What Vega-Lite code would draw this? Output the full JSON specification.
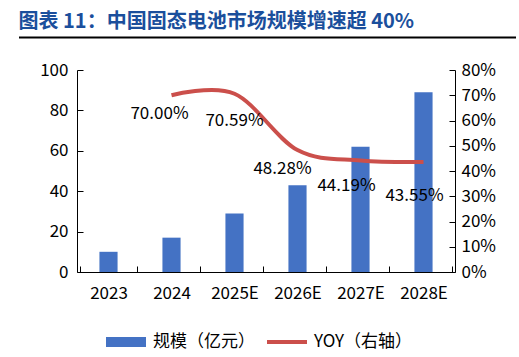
{
  "$schema": "https://vega.github.io/schema/vega-lite/v6.json",
  "padding": {"left": 18, "top": 12, "right": 4, "bottom": 4},
  "background": "white",
  "width": 378,
  "height": 202,
  "title": {"text": "图表 11：中国固态电池市场规模增速超 40%", "anchor": "start", "frame": "bounds", "font": "Noto Sans CJK SC", "fontSize": 20, "fontWeight": "bold", "color": "#1B4F9C", "offset": 5},
  "config": {"view": {"stroke": null}, "font": "Noto Sans CJK SC"},
  "layer": [
    {
      "data": {"values": [
        {"year": "2023", "size": 10, "yoy": null},
        {"year": "2024", "size": 17, "yoy": 0.7},
        {"year": "2025E", "size": 29, "yoy": 0.7059},
        {"year": "2026E", "size": 43, "yoy": 0.4828},
        {"year": "2027E", "size": 62, "yoy": 0.4419},
        {"year": "2028E", "size": 89, "yoy": 0.4355}
      ]},
      "encoding": {
        "x": {"field": "year", "type": "nominal", "sort": null, "title": null,
          "axis": {"labelAngle": 0, "tickBand": "extent", "tickSize": -6, "tickColor": "#000", "domainColor": "#000", "labelFontSize": 17, "labelColor": "#000", "labelPadding": 19, "labelFont": "Noto Sans CJK SC"}}
      },
      "layer": [
        {
          "mark": {"type": "bar", "width": {"band": 0.32}},
          "encoding": {
            "y": {"field": "size", "type": "quantitative", "title": null, "scale": {"domain": [0, 100]},
              "axis": {"values": [0, 20, 40, 60, 80, 100], "grid": false, "tickSize": -6, "tickColor": "#000", "domainColor": "#000", "labelFontSize": 17, "labelColor": "#000", "labelPadding": 15}},
            "color": {"datum": "规模（亿元）", "type": "nominal",
              "scale": {"domain": ["规模（亿元）", "YOY（右轴）"], "range": ["#4472C4", "#CB4F4B"]},
              "legend": {"orient": "bottom", "title": null, "direction": "horizontal", "symbolType": "square", "symbolSize": 1600, "labelFontSize": 17, "labelColor": "#000", "columnPadding": 12, "labelOffset": 7, "padding": 29, "offset": -8,
                "encode": {"symbols": {"update": {
                  "shape": {"signal": "datum.value === '规模（亿元）' ? 'M-1,-0.25H1V0.25H-1Z' : 'M-1,-0.1H1V0.1H-1Z'"},
                  "fill": {"signal": "datum.value === '规模（亿元）' ? '#4472C4' : '#CB4F4B'"},
                  "strokeWidth": {"value": 0},
                  "opacity": {"value": 1}
                }}}}
            }
          }
        },
        {
          "transform": [{"filter": "datum.yoy != null"}],
          "encoding": {
            "y": {"field": "yoy", "type": "quantitative", "title": null, "scale": {"domain": [0, 0.8]},
              "axis": {"orient": "right", "format": ".0%", "values": [0, 0.1, 0.2, 0.3, 0.4, 0.5, 0.6, 0.7, 0.8], "grid": false, "tickSize": -6, "tickColor": "#000", "domainColor": "#000", "labelFontSize": 17, "labelColor": "#000", "labelPadding": 12}}
          },
          "layer": [
            {
              "mark": {"type": "line", "interpolate": "cardinal", "strokeWidth": 4},
              "encoding": {"color": {"datum": "YOY（右轴）", "type": "nominal"}}
            },
            {
              "transform": [{"filter": "datum.year === '2024'"}],
              "mark": {"type": "text", "fontSize": 17, "color": "#000", "dx": -12, "dy": 19},
              "encoding": {"text": {"field": "yoy", "format": ".2%"}}
            },
            {
              "transform": [{"filter": "datum.year === '2025E'"}],
              "mark": {"type": "text", "fontSize": 17, "color": "#000", "dx": 0, "dy": 27},
              "encoding": {"text": {"field": "yoy", "format": ".2%"}}
            },
            {
              "transform": [{"filter": "datum.year === '2026E'"}],
              "mark": {"type": "text", "fontSize": 17, "color": "#000", "dx": -15, "dy": 19},
              "encoding": {"text": {"field": "yoy", "format": ".2%"}}
            },
            {
              "transform": [{"filter": "datum.year === '2027E'"}],
              "mark": {"type": "text", "fontSize": 17, "color": "#000", "dx": -14, "dy": 26},
              "encoding": {"text": {"field": "yoy", "format": ".2%"}}
            },
            {
              "transform": [{"filter": "datum.year === '2028E'"}],
              "mark": {"type": "text", "fontSize": 17, "color": "#000", "dx": -9, "dy": 34},
              "encoding": {"text": {"field": "yoy", "format": ".2%"}}
            }
          ]
        }
      ],
      "resolve": {"scale": {"y": "independent"}}
    },
    {
      "data": {"values": [{}]},
      "mark": {"type": "rect", "opacity": 0},
      "encoding": {
        "x": {"datum": 0, "type": "quantitative", "scale": {"domain": [0, 1], "range": [-58.5, 438.5]},
          "axis": {"orient": "top", "offset": 33, "domain": true, "domainColor": "#000000", "domainWidth": 2, "labels": false, "ticks": false, "grid": false, "title": null}},
        "x2": {"datum": 1},
        "y": {"datum": 1, "type": "quantitative", "scale": {"domain": [0, 1]}, "axis": null},
        "y2": {"datum": 0.99}
      }
    }
  ],
  "resolve": {"scale": {"x": "independent", "y": "independent"}}
}
